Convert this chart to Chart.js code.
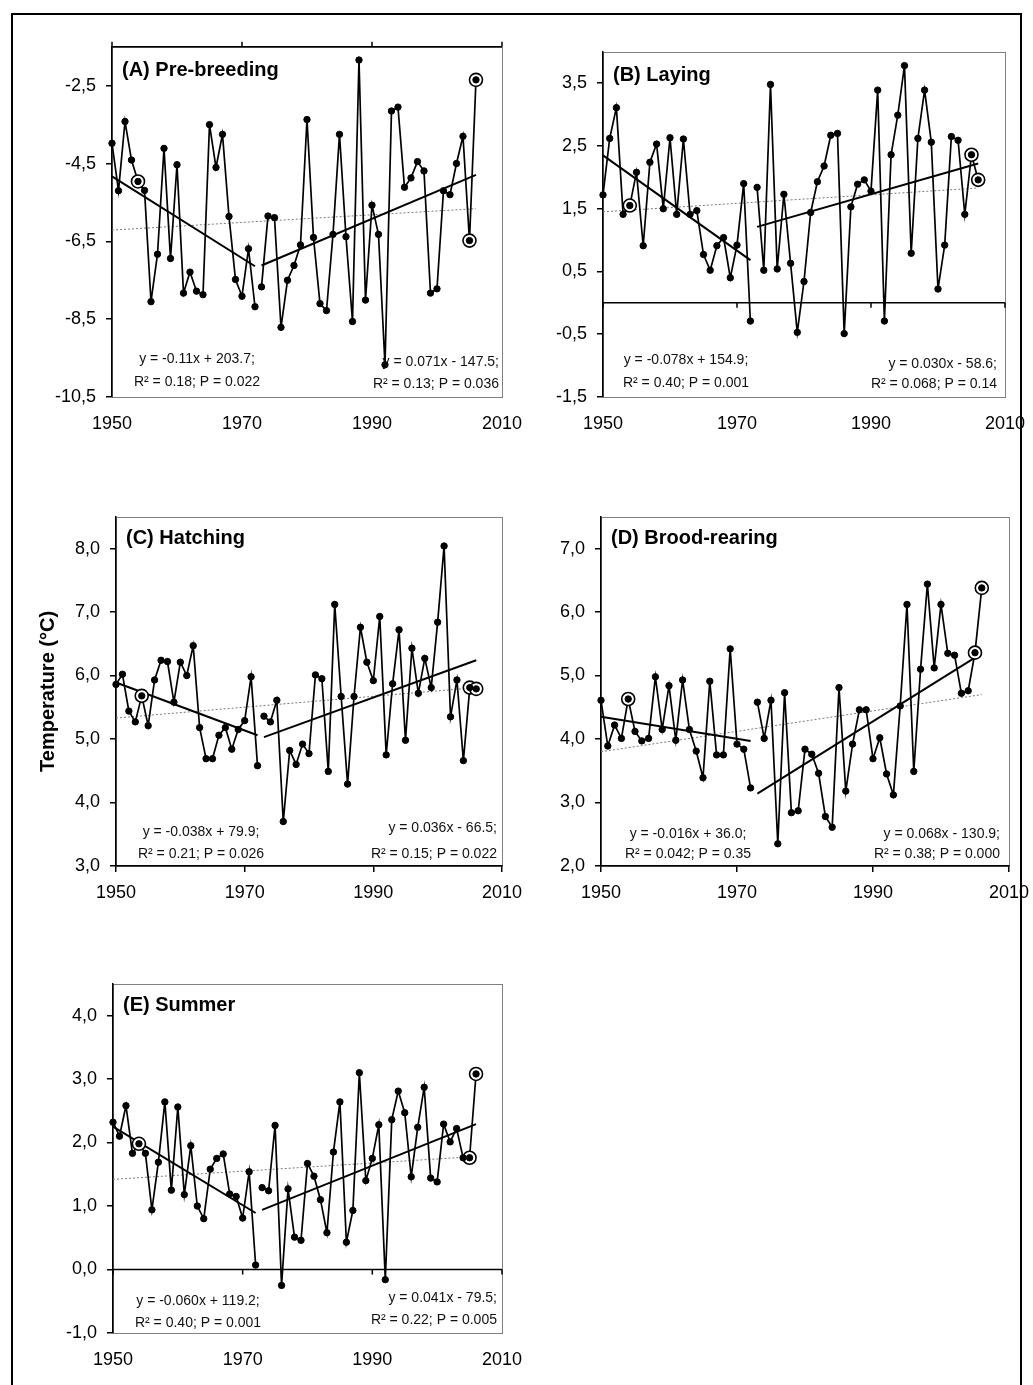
<!DOCTYPE html>
<html><head><meta charset="utf-8">
<script src="https://cdn.jsdelivr.net/npm/chart.js@4/dist/chart.umd.min.js"></script>
<style>
html,body{margin:0;padding:0;background:#fff;width:1033px;height:1385px;overflow:hidden;position:relative;}
#frame{position:absolute;left:11px;top:13px;width:1011px;height:1420px;border:2px solid #000;box-sizing:border-box;}
canvas{position:absolute;}
</style></head><body>
<div id="frame"></div>
<script>
// ---------- DATA ----------
const years = [1950,1951,1952,1953,1954,1955,1956,1957,1958,1959,1960,1961,1962,1963,1964,1965,1966,1967,1968,1969,
1970,1971,1972,1973,1974,1975,1976,1977,1978,1979,1980,1981,1982,1983,1984,1985,1986,1987,1988,1989,
1990,1991,1992,1993,1994,1995,1996,1997,1998,1999,2000,2001,2002,2003,2004,2005,2006];
const breakYear = 1972;
const circledYears = [1954, 2005, 2006];
const xTicks = [1950, 1970, 1990, 2010];

const tempA = [-3.98,-5.20,-3.42,-4.41,-4.96,-5.19,-8.05,-6.83,-4.11,-6.94,-4.53,-7.83,-7.29,-7.78,-7.87,-3.50,-4.60,-3.75,-5.86,-7.48,
-7.91,-6.69,-8.18,-7.67,-5.85,-5.89,-8.71,-7.50,-7.12,-6.59,-3.37,-6.40,-8.10,-8.28,-6.32,-3.75,-6.38,-8.56,-1.84,-8.01,
-5.57,-6.32,-9.67,-3.15,-3.05,-5.11,-4.87,-4.45,-4.69,-7.83,-7.72,-5.20,-5.30,-4.50,-3.80,-6.48,-2.35];
const tempB = [1.72,2.62,3.11,1.41,1.55,2.08,0.91,2.24,2.53,1.50,2.63,1.41,2.61,1.41,1.47,0.77,0.52,0.91,1.04,0.40,
0.92,1.90,-0.29,1.84,0.52,3.48,0.54,1.73,0.63,-0.47,0.34,1.44,1.93,2.18,2.67,2.70,-0.49,1.53,1.89,1.96,
1.78,3.39,-0.29,2.36,2.99,3.78,0.79,2.62,3.39,2.56,0.22,0.92,2.65,2.59,1.41,2.36,1.96];
const tempC = [5.86,6.02,5.44,5.27,5.68,5.21,5.93,6.24,6.22,5.58,6.21,6.00,6.47,5.18,4.69,4.69,5.06,5.18,4.84,5.15,
5.29,5.98,4.58,5.36,5.27,5.61,3.70,4.82,4.60,4.92,4.77,6.01,5.95,4.49,7.12,5.67,4.29,5.67,6.76,6.21,
5.92,6.93,4.75,5.87,6.72,4.98,6.43,5.72,6.27,5.81,6.84,8.04,5.35,5.93,4.66,5.81,5.79];
const tempD = [4.61,3.89,4.22,4.01,4.63,4.12,3.97,4.01,4.98,4.15,4.84,3.98,4.93,4.15,3.81,3.39,4.91,3.75,3.75,5.42,
3.92,3.84,3.23,4.58,4.01,4.61,2.35,4.73,2.84,2.87,3.84,3.76,3.46,2.78,2.61,4.81,3.18,3.92,4.46,4.46,
3.69,4.02,3.45,3.12,4.52,6.12,3.49,5.10,6.44,5.12,6.12,5.35,5.32,4.72,4.76,5.36,6.38];
const tempE = [2.32,2.10,2.58,1.83,1.98,1.83,0.94,1.69,2.64,1.25,2.56,1.18,1.95,1.00,0.80,1.58,1.75,1.82,1.19,1.15,
0.81,1.54,0.07,1.29,1.24,2.27,-0.25,1.27,0.51,0.46,1.67,1.47,1.10,0.58,1.85,2.64,0.43,0.93,3.10,1.40,
1.75,2.28,-0.16,2.36,2.81,2.47,1.46,2.24,2.87,1.44,1.38,2.29,2.01,2.22,1.76,1.76,3.08];

// trend line end points
const trendYearsEarly = [1950, 1972];
const trendYearsLate  = [1973, 2006];
const trendYearsAll   = [1950, 2006];
const trendA1 = [-4.83,-7.14], trendA2 = [-7.12,-4.79], trendA0 = [-6.21,-5.66];
const trendB1 = [2.35,0.68],   trendB2 = [1.21,2.22],   trendB0 = [1.45,1.83];
const trendC1 = [5.89,5.06],   trendC2 = [5.03,6.24],   trendC0 = [5.33,5.81];
const trendD1 = [4.35,3.97],   trendD2 = [3.14,5.35],   trendD0 = [3.80,4.70];
const trendE1 = [2.25,0.89],   trendE2 = [0.94,2.29],   trendE0 = [1.42,1.78];

const yTicksA = [-10.5,-8.5,-6.5,-4.5,-2.5];
const yTicksB = [-1.5,-0.5,0.5,1.5,2.5,3.5];
const yTicksC = [3,4,5,6,7,8];
const yTicksD = [2,3,4,5,6,7];
const yTicksE = [-1,0,1,2,3,4];

// ---------- RENDER ----------
const FONT = "'Liberation Sans', Arial, Helvetica, sans-serif";

const decoPlugin = {
  id: 'panelDeco',
  beforeDraw(chart, args, o) {
    const a = chart.chartArea, ctx = chart.ctx;
    ctx.save();
    ctx.strokeStyle = '#808080'; ctx.lineWidth = 1;
    ctx.strokeRect(Math.round(a.left) + 0.5, Math.round(a.top) + 0.5, Math.round(a.right - a.left), Math.round(a.bottom - a.top));
    ctx.restore();
  },
  beforeDatasetsDraw(chart, args, o) {
    if (o.crossAt === undefined || o.crossAt === null) return;
    const ctx = chart.ctx, a = chart.chartArea, xs = chart.scales.x, ys = chart.scales.y;
    const y = ys.getPixelForValue(o.crossAt);
    ctx.save();
    ctx.strokeStyle = '#000'; ctx.lineWidth = 1.5;
    ctx.beginPath();
    ctx.moveTo(a.left, y); ctx.lineTo(a.right, y);
    xTicks.forEach(v => { const x = xs.getPixelForValue(v); ctx.moveTo(x, y); ctx.lineTo(x, y + 5 * o.tickDir); });
    ctx.stroke();
    ctx.restore();
  },
  afterDatasetsDraw(chart, args, o) {
    const ctx = chart.ctx, a = chart.chartArea;
    ctx.save();
    ctx.fillStyle = '#000';
    ctx.textBaseline = 'middle';
    ctx.font = 'bold 20px ' + FONT;
    ctx.textAlign = 'left';
    ctx.fillText(o.label, a.left + 10, a.top + o.titleDy);
    ctx.font = '14px ' + FONT;
    ctx.fillStyle = '#111';
    ctx.textAlign = 'center';
    ctx.fillText(o.eqL1, a.left + o.eqLx, a.bottom - o.dy[0]);
    ctx.fillText(o.eqL2, a.left + o.eqLx, a.bottom - o.dy[1]);
    ctx.textAlign = 'right';
    ctx.fillText(o.eqR1, a.right - o.eqRx, a.bottom - o.dy[2]);
    ctx.fillText(o.eqR2, a.right - o.eqRx, a.bottom - o.dy[3]);
    ctx.restore();
  }
};
Chart.register(decoPlugin);

function makePanel(p) {
  const padL = 80, padT = 16, padR = 30, axH = 45;
  const w = p.right - p.left, h = p.bottom - p.top;
  const c = document.createElement('canvas');
  c.width = w + padL + padR; c.height = h + padT + axH;
  c.style.left = (p.left - padL) + 'px'; c.style.top = (p.top - padT) + 'px';
  document.body.appendChild(c);

  const pts = (ys, vs) => ys.map((y, i) => ({x: y, y: vs[i]}));
  const early = [], late = [];
  years.forEach((yr, i) => { (yr <= breakYear ? early : late).push({x: yr, y: p.values[i]}); });
  const all = pts(years, p.values);
  const rings = circledYears.map(yr => ({x: yr, y: p.values[years.indexOf(yr)]}));
  const lineDs = (data, extra) => Object.assign({data, borderColor: '#000', borderWidth: 1.7, pointRadius: 0,
    fill: false, tension: 0, clip: false}, extra);

  new Chart(c, {
    type: 'line',
    data: {datasets: [
      lineDs(pts(trendYearsAll, p.trend0), {borderColor: '#7a7a7a', borderWidth: 1, borderDash: [2, 2], order: 6}),
      lineDs(pts(trendYearsEarly, p.trend1), {borderWidth: 2, order: 5}),
      lineDs(pts(trendYearsLate, p.trend2), {borderWidth: 2, order: 5}),
      lineDs(early, {order: 4}),
      lineDs(late, {order: 4}),
      {data: rings, showLine: false, pointRadius: 6.5, pointBorderWidth: 1.6, pointBackgroundColor: '#fff',
        pointBorderColor: '#000', order: 2, clip: false},
      {data: all, showLine: false, pointRadius: 3.2, pointBorderWidth: 1, pointBackgroundColor: '#000',
        pointBorderColor: '#000', order: 1, clip: false}
    ]},
    options: {
      responsive: false, animation: false, devicePixelRatio: 1, events: [],
      layout: {padding: {left: 0, top: padT, right: padR, bottom: 0}},
      plugins: {
        legend: {display: false}, tooltip: {enabled: false},
        panelDeco: {label: p.label, titleDy: p.titleDy, eqL1: p.eqL[0], eqL2: p.eqL[1], eqR1: p.eqR[0], eqR2: p.eqR[1],
          eqLx: p.eqLx, eqRx: p.eqRx, dy: p.dy, crossAt: p.crossAt, tickDir: p.tickDir}
      },
      scales: {
        x: {
          type: 'linear', min: 1950, max: 2010,
          afterBuildTicks: s => { s.ticks = xTicks.map(v => ({value: v})); },
          afterFit: s => { s.height = axH; },
          ticks: {callback: v => String(v), font: {family: FONT, size: 18}, color: '#000', padding: 10, maxRotation: 0, autoSkip: false},
          grid: {drawOnChartArea: false, drawTicks: true, tickLength: 6, color: p.xAxisBottom ? '#000' : 'rgba(0,0,0,0)', lineWidth: 1.5},
          border: {display: true, color: p.xAxisBottom ? '#000' : '#808080', width: p.xAxisBottom ? 1.5 : 1}
        },
        y: {
          type: 'linear', min: p.yMin, max: p.yMax,
          afterBuildTicks: s => { s.ticks = p.yTicks.map(v => ({value: v})); },
          afterFit: s => { s.width = padL; },
          ticks: {callback: v => Number(v).toFixed(1).replace('.', ','), font: {family: FONT, size: 18}, color: '#000', padding: 10, autoSkip: false},
          grid: {drawOnChartArea: false, drawTicks: true, tickLength: 6, color: '#000', lineWidth: 1.5},
          border: {display: true, color: '#000', width: 1.5},
          title: p.yTitle ? {display: true, text: p.yTitle, font: {family: FONT, size: 20, weight: 'bold'}, color: '#000', padding: {top: 0, bottom: 0}} : {display: false}
        }
      }
    }
  });
}

makePanel({left: 112, top: 42, right: 502, bottom: 397, yMin: -10.5, yMax: -1.5, yTicks: yTicksA,
  values: tempA, trend1: trendA1, trend2: trendA2, trend0: trendA0, xAxisBottom: false, crossAt: -1.5, tickDir: -1,
  label: '(A) Pre-breeding', titleDy: 24,
  eqL: ['y = -0.11x + 203.7;', 'R² = 0.18; P = 0.022'], eqR: ['y = 0.071x - 147.5;', 'R² = 0.13; P = 0.036'],
  eqLx: 85, eqRx: 3, dy: [38, 15, 35, 13]});

makePanel({left: 603, top: 47, right: 1005, bottom: 397, yMin: -1.5, yMax: 4.0, yTicks: yTicksB,
  values: tempB, trend1: trendB1, trend2: trendB2, trend0: trendB0, xAxisBottom: false, crossAt: 0, tickDir: 1,
  label: '(B) Laying', titleDy: 24,
  eqL: ['y = -0.078x + 154.9;', 'R² = 0.40; P = 0.001'], eqR: ['y = 0.030x - 58.6;', 'R² = 0.068; P = 0.14'],
  eqLx: 83, eqRx: 8, dy: [37, 14, 33, 13]});

makePanel({left: 116, top: 512, right: 502, bottom: 866, yMin: 3.0, yMax: 8.5, yTicks: yTicksC,
  values: tempC, trend1: trendC1, trend2: trendC2, trend0: trendC0, xAxisBottom: true,
  label: '(C) Hatching', titleDy: 22, yTitle: 'Temperature (°C)',
  eqL: ['y = -0.038x + 79.9;', 'R² = 0.21; P = 0.026'], eqR: ['y = 0.036x - 66.5;', 'R² = 0.15; P = 0.022'],
  eqLx: 85, eqRx: 5, dy: [34, 12, 38, 12]});

makePanel({left: 601, top: 512, right: 1009, bottom: 866, yMin: 2.0, yMax: 7.5, yTicks: yTicksD,
  values: tempD, trend1: trendD1, trend2: trendD2, trend0: trendD0, xAxisBottom: true,
  label: '(D) Brood-rearing', titleDy: 22,
  eqL: ['y = -0.016x + 36.0;', 'R² = 0.042; P = 0.35'], eqR: ['y = 0.068x - 130.9;', 'R² = 0.38; P = 0.000'],
  eqLx: 87, eqRx: 9, dy: [32, 12, 32, 12]});

makePanel({left: 113, top: 979, right: 502, bottom: 1333, yMin: -1.0, yMax: 4.5, yTicks: yTicksE,
  values: tempE, trend1: trendE1, trend2: trendE2, trend0: trendE0, xAxisBottom: false, crossAt: 0, tickDir: 1,
  label: '(E) Summer', titleDy: 22,
  eqL: ['y = -0.060x + 119.2;', 'R² = 0.40; P = 0.001'], eqR: ['y = 0.041x - 79.5;', 'R² = 0.22; P = 0.005'],
  eqLx: 85, eqRx: 5, dy: [32, 10, 35, 13]});
</script>
</body></html>
